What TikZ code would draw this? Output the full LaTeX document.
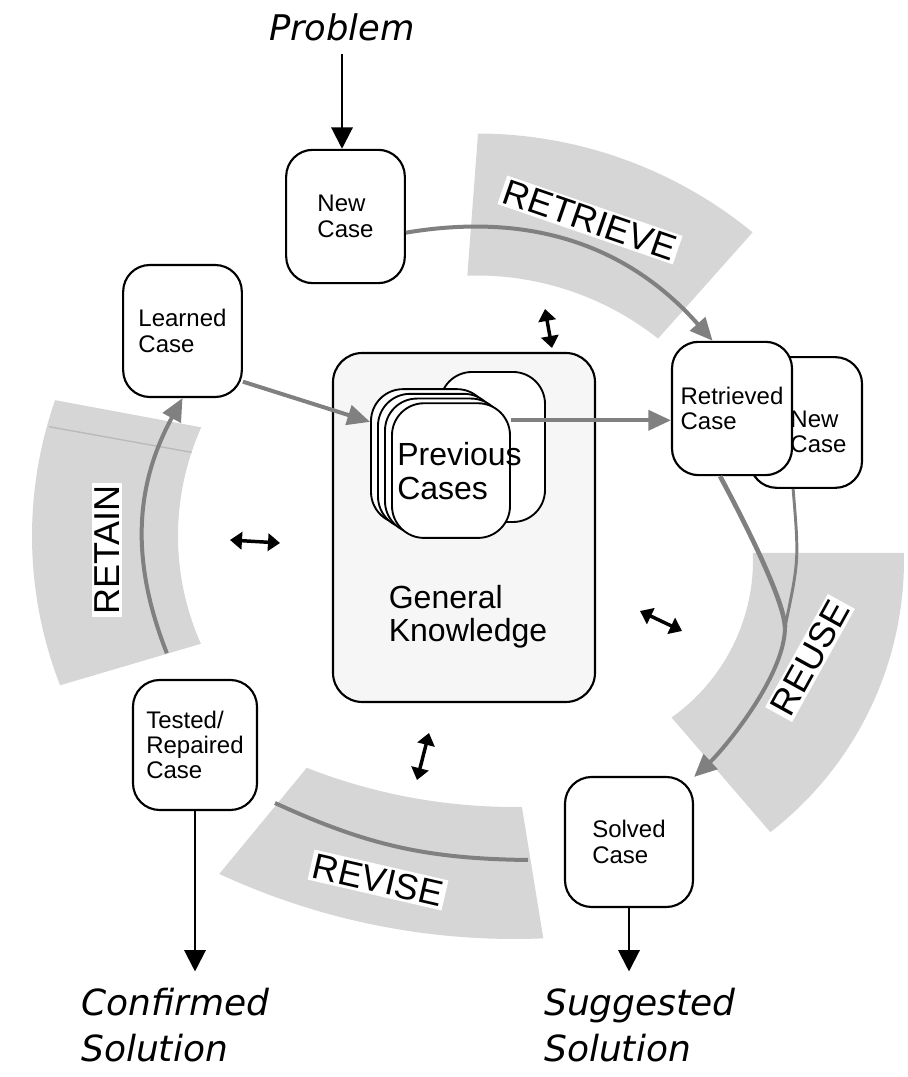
\documentclass[tikz,border=0pt]{standalone}
\usepackage{fontspec}
\setmainfont{Liberation Sans}
\newfontfamily\solfont{DejaVu Sans}
\usetikzlibrary{arrows.meta,calc}
\definecolor{bandgray}{gray}{0.84}
\definecolor{flowgray}{gray}{0.5}
\definecolor{kbgray}{gray}{0.965}

\begin{document}
\begin{tikzpicture}[x=0.75pt, y=0.75pt]
\tikzstyle{casebox}=[draw, line width=1.6pt, rounded corners=20pt, fill=white, align=left, inner sep=0pt, font=\fontsize{18}{19}\selectfont]
\tikzstyle{card}=[draw, line width=1.4pt, rounded corners=24pt, fill=white, minimum width=88.5pt, minimum height=101pt]
\tikzstyle{band}=[fill=bandgray]
\tikzstyle{bandtext}=[fill=white, inner sep=2pt, font=\fontsize{27}{30}\selectfont]
\tikzstyle{flow}=[draw=flowgray, line width=3pt, -{Triangle[length=17pt,width=15pt]}]
\tikzstyle{flowline}=[draw=flowgray, line width=3pt]
\tikzstyle{outtext}=[align=left, inner sep=0pt, font=\solfont\itshape\fontsize{27}{35}\selectfont]
\tikzstyle{io}=[line width=1.6pt, -{Triangle[length=16pt,width=16pt]}]
\tikzstyle{swap}=[line width=2.6pt, {Triangle[length=9pt,width=13pt]}-{Triangle[length=9pt,width=13pt]}]

\useasboundingbox (0,0) rectangle (907,1077);

% the four phases
\coordinate (retainc) at (443,541);
\coordinate (retrievec) at (476.5,508.5);
\coordinate (reusec) at (560,517);
\coordinate (revisec) at (514,838);
\fill[band] ($(retainc)+(155.8:265)$) arc[start angle=155.8, end angle=204, radius=265]
  -- ($(retainc)+(201.3:411)$) arc[start angle=201.3, end angle=160.7, radius=411] -- cycle;
\fill[band] ($(retrievec)+(91.8:293)$) arc[start angle=91.8, end angle=51.7, radius=293]
  -- ($(retrievec)+(50.6:435)$) arc[start angle=50.6, end angle=89.8, radius=435] -- cycle;
\fill[band] ($(reusec)+(2.1:193)$) arc[start angle=2.1, end angle=-54.7, radius=193]
  -- ($(reusec)+(-52.3:344)$) arc[start angle=-52.3, end angle=1.2, radius=344] -- cycle;
\fill[band] ($(revisec)+(248.6:568)$) arc[start angle=248.6, end angle=270.8, radius=568]
  -- ($(revisec)+(272.4:700)$) arc[start angle=272.4, end angle=245.1, radius=700] -- cycle;
\draw[line width=1pt, gray!55] ($(retainc)+(161.6:265)$) -- ($(retainc)+(164.5:409)$);

\node[bandtext, rotate=-19] (retrievelabel) at (590,857) {RETRIEVE};
\node[bandtext, rotate=61] (reuselabel) at (810,419) {REUSE};
\node[bandtext, rotate=-13] (reviselabel) at (378,197) {REVISE};
\node[bandtext, rotate=90] (retainlabel) at (107,527) {RETAIN};

% knowledge base
\node[draw, line width=1.6pt, rounded corners=22pt, fill=kbgray, minimum width=196.5pt, minimum height=261.75pt] (gk) at (464,549.5) {};
\node[font=\fontsize{24}{25}\selectfont, align=left, inner sep=0pt] (gktext) at (468,460.5) {General\\Knowledge};
\node[card, minimum width=78.75pt, minimum height=112.5pt] (pcback) at (492.5,630) {};
\foreach \i in {0,...,3}
{
\node[card] (pc\i) at (430+7*\i, 620.5-4.7*\i) {};
}
\node[font=\fontsize{24}{25}\selectfont, align=left, inner sep=0pt] (prevtext) at (459.5,606) {Previous\\Cases};

% cases
\node[font=\solfont\itshape\fontsize{26.5}{30}\selectfont, inner sep=2pt] (problem) at (342,1050) {Problem};
\node[casebox, minimum width=89pt, minimum height=100pt] (newcase) at (345.5,860.5) {New\\Case};
\node[casebox, minimum width=89pt, minimum height=99pt] (learned) at (182.5,746) {Learned\\Case};
\node[casebox, minimum width=93pt, minimum height=97.5pt] (tested) at (195,332) {Tested/\\Repaired\\Case};
\node[casebox, minimum width=96pt, minimum height=97.5pt] (solved) at (629,235) {Solved\\Case};
\node[casebox, minimum width=84pt, minimum height=98pt] (newcase2) at (806,654.5) {};
\node[font=\fontsize{18}{19}\selectfont, align=left, inner sep=0pt] (newcase2text) at (818.5,645) {New\\Case};
\node[casebox, minimum width=90pt, minimum height=100pt] (retrieved) at (732,668.5) {Retrieved\\Case};
\node[outtext, anchor=west] (confirmed) at (81,52) {Confirmed\\Solution};
\node[outtext, anchor=west] (suggested) at (544,52) {Suggested\\Solution};

% in and out
\draw[io, shorten <=8pt] (problem) -- (problem |- newcase.north);
\draw[io, shorten >=12pt] (tested) -- (tested |- confirmed.north);
\draw[io, shorten >=12pt] (solved) -- (solved |- suggested.north);

% the cycle
\coordinate (retainfrom) at ($(retainc)+(203:300)$);
\coordinate (reusejoin) at (785,450);
\coordinate (revisefrom) at (275,274);
\coordinate (reviseto) at (528,217);
\draw[flow] (newcase.-15) to[bend left=29] (retrieved.106);
\draw[flow] (retainfrom) to[bend left=25] (learned.south);
\draw[flow] (learned.-40) -- (pc0.150);
\draw[flow] (pc3.40) -- (pc3.40 -| retrieved.west);
\draw[flowline, line width=3.5pt] (retrieved.260) .. controls (735,573) and (784,480) .. (reusejoin);
\draw[flowline, line width=2.2pt] (newcase2.259) .. controls (799,517) .. (reusejoin);
\draw[flow] (reusejoin) .. controls (785,400) and (722,326) .. (solved.45);
\draw[flowline] (revisefrom) to[bend right=12] (reviseto);

% links to the knowledge
\coordinate (swapa1) at (545,768);
\coordinate (swapa2) at (552,729);
\coordinate (swapb1) at (230,537);
\coordinate (swapb2) at (280,534);
\coordinate (swapc1) at (640,466);
\coordinate (swapc2) at (682,446);
\coordinate (swapd1) at (429,344);
\coordinate (swapd2) at (417,297);
\foreach \s in {a,b,c,d}
{
\draw[swap] (swap\s1) -- (swap\s2);
}
\end{tikzpicture}
\end{document}
